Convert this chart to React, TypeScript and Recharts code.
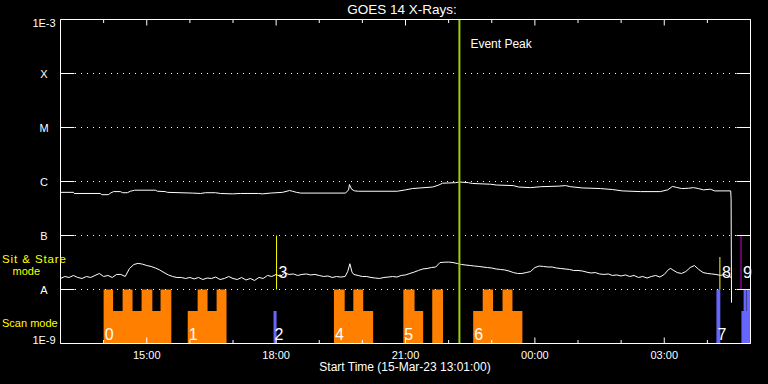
import { ComposedChart, XAxis, YAxis, Line, Area, ReferenceLine, ReferenceDot } from 'recharts';

const W = 768;
const H = 384;
const FONT = '"Liberation Sans", Arial, sans-serif';

// time axis: hours after 00:00 on 15-Mar-23 (24 = 00:00 on the 16th)
const hourTicks = [14, 15, 16, 17, 18, 19, 20, 21, 22, 23, 24, 25, 26, 27, 28];
const hourLabels: Record<number, string> = { 15: '15:00', 18: '18:00', 21: '21:00', 24: '00:00', 27: '03:00' };

// flux axis: decades and GOES class letters
const fluxTicks = [1e-9, 1e-8, 1e-7, 1e-6, 1e-5, 1e-4, 1e-3];
const fluxLabels = ['1E-9', 'A', 'B', 'C', 'M', 'X', '1E-3'];
const classLines = [1e-8, 1e-7, 1e-6, 1e-5, 1e-4];

// long channel, units of 1e-7
const longTimes = [
  13.0, 13.3, 13.32, 13.93, 13.95, 14.11, 14.16, 14.23, 14.39, 14.44, 14.55, 14.62, 14.72, 15.2, 15.25, 15.43,
  15.48, 16.06, 16.25, 16.36, 16.59, 16.71, 16.99, 17.17, 17.59, 17.68, 17.87, 18.15, 18.31, 18.38, 18.47, 18.57,
  19.61, 19.68, 19.7, 19.75, 19.82, 19.91, 20.81, 21.0, 21.16, 21.35, 21.63, 21.77, 21.86, 22.16, 22.25, 22.46,
  22.55, 22.97, 23.11, 23.5, 23.62, 23.9, 24.13, 24.55, 24.71, 24.83, 25.1, 25.52, 25.8, 26.03, 26.45, 26.91,
  27.08, 27.19, 27.28, 27.4, 27.56, 27.68, 27.79, 27.91, 28.07, 28.17, 28.54, 28.55, 28.56,
];
const longFlux = [
  6.3, 6.3, 6.0, 6.0, 5.7, 5.7, 6.1, 6.5, 6.5, 6.2, 6.2, 6.6, 6.9, 6.9, 6.6, 6.5,
  6.3, 6.1, 6.0, 6.2, 6.2, 6.0, 5.9, 6.0, 6.0, 5.9, 6.1, 6.3, 6.8, 6.6, 6.3, 6.1,
  6.1, 7.0, 8.8, 7.2, 6.7, 6.6, 6.6, 7.0, 7.4, 7.6, 7.9, 8.6, 9.3, 9.5, 9.8, 9.5,
  9.2, 8.9, 8.6, 8.4, 7.9, 7.7, 8.0, 8.2, 8.4, 8.0, 7.6, 7.4, 7.1, 6.7, 6.5, 6.5,
  7.0, 8.1, 7.8, 7.4, 7.5, 7.7, 7.4, 7.0, 7.2, 6.7, 6.7, 4.8, 0.057,
];

// short channel, units of 1e-8
const shortTimes = [
  13.0, 13.1, 13.2, 13.3, 13.4, 13.5, 13.6, 13.7, 13.8, 13.9, 14.0, 14.1, 14.2, 14.3, 14.4, 14.5,
  14.6, 14.7, 14.8, 14.9, 15.0, 15.1, 15.2, 15.3, 15.4, 15.5, 15.6, 15.7, 15.8, 15.9, 16.0, 16.1,
  16.2, 16.3, 16.4, 16.5, 16.6, 16.7, 16.8, 16.9, 17.0, 17.1, 17.2, 17.3, 17.4, 17.5, 17.6, 17.7,
  17.8, 17.9, 18.0, 18.1, 18.2, 18.3, 18.4, 18.5, 18.6, 18.7, 18.8, 18.9, 19.0, 19.1, 19.2, 19.3,
  19.4, 19.5, 19.6, 19.66, 19.71, 19.76, 19.8, 19.9, 20.0, 20.1, 20.2, 20.3, 20.4, 20.5, 20.6, 20.7,
  20.8, 20.9, 21.0, 21.1, 21.2, 21.3, 21.4, 21.5, 21.6, 21.7, 21.8, 21.9, 22.0, 22.1, 22.2, 22.3,
  22.4, 22.5, 22.6, 22.7, 22.8, 22.9, 23.0, 23.1, 23.2, 23.3, 23.4, 23.5, 23.6, 23.7, 23.8, 23.9,
  24.0, 24.1, 24.2, 24.3, 24.4, 24.5, 24.6, 24.7, 24.8, 24.9, 25.0, 25.1, 25.2, 25.3, 25.4, 25.5,
  25.6, 25.7, 25.8, 25.9, 26.0, 26.1, 26.2, 26.3, 26.4, 26.5, 26.6, 26.7, 26.8, 26.9, 27.0, 27.1,
  27.15, 27.2, 27.3, 27.4, 27.5, 27.6, 27.7, 27.8, 27.9, 28.0, 28.1, 28.2, 28.3, 28.4, 28.5, 28.56,
];
const shortFlux = [
  1.6, 1.74, 1.67, 1.82, 1.67, 1.6, 1.74, 1.67, 1.82, 1.98, 1.74, 1.82, 1.67, 1.9, 1.9, 1.74,
  2.45, 2.9, 3.05, 2.95, 2.78, 2.67, 2.5, 2.3, 2.06, 1.86, 1.74, 1.67, 1.67, 1.6, 1.67, 1.57,
  1.67, 1.53, 1.63, 1.6, 1.7, 1.53, 1.6, 1.74, 1.6, 1.53, 1.67, 1.5, 1.6, 1.47, 1.67, 1.6,
  1.82, 1.74, 1.9, 1.74, 2.02, 1.9, 1.94, 1.82, 1.9, 1.94, 1.86, 1.9, 1.82, 1.74, 1.78, 1.67,
  1.74, 1.7, 1.74, 2.15, 3.0, 2.1, 1.9, 1.82, 1.74, 1.74, 1.67, 1.63, 1.6, 1.67, 1.7, 1.74,
  1.7, 1.82, 1.86, 1.98, 2.1, 2.25, 2.4, 2.45, 2.55, 2.61, 3.16, 3.2, 3.22, 3.16, 3.03, 2.9,
  2.84, 2.78, 2.72, 2.67, 2.61, 2.55, 2.5, 2.4, 2.35, 2.3, 2.2, 2.06, 1.98, 1.98, 2.06, 2.15,
  2.55, 2.72, 2.67, 2.61, 2.61, 2.5, 2.45, 2.4, 2.35, 2.25, 2.25, 2.2, 2.1, 2.02, 2.06, 1.94,
  1.9, 1.94, 1.82, 1.86, 1.78, 1.86, 1.74, 1.82, 1.67, 1.74, 1.63, 1.74, 1.82, 1.7, 1.9, 2.35,
  2.45, 2.3, 2.06, 1.98, 2.15, 2.55, 2.78, 2.35, 2.06, 1.98, 1.94, 1.9, 1.82, 1.9, 1.74, 1.67,
];

// instrument mode blocks: edges in hours, one level per interval
const scanEdges = [
  14.0, 14.22, 14.44, 14.67, 14.88, 15.13, 15.32, 15.57, 15.95, 16.18, 16.41, 16.62, 16.85, 19.34, 19.59,
  19.79, 20.02, 20.25, 20.95, 21.21, 21.41, 21.62, 21.87, 22.57, 22.79, 23.03, 23.25, 23.48, 23.71,
];
const scanLevels = [
  'hi', 'lo', 'hi', 'lo', 'hi', 'lo', 'hi', 'off', 'lo', 'hi', 'lo', 'hi', 'off', 'hi', 'lo',
  'hi', 'lo', 'off', 'hi', 'lo', 'off', 'hi', 'off', 'lo', 'hi', 'lo', 'hi', 'lo',
];
const stareEdges = [17.94, 18.01, 28.21, 28.3, 28.79, 28.84, 28.91, 28.92, 29.0];
const stareLevels = ['lo', 'off', 'hi', 'off', 'lo', 'hi', 'lo', 'hi'];
const LEVEL: Record<string, number> = { hi: 1e-8, lo: 4e-9 };

const blockNames = ['0', '1', '2', '4', '5', '6', '7'];
const blockTimes = [14.0, 15.95, 17.94, 19.34, 20.95, 22.57, 28.21];

const eventNames = ['3', '8', '9'];
const eventTimes = [18.01, 28.29, 28.78];
const eventTops = [1e-7, 4e-8, 1e-7];
const eventColors = ['#ffff00', '#ffff00', '#cc00cc'];
const peakTime = 22.25;

const longData = longTimes.map((t, i) => ({ t, v: longFlux[i] * 1e-7 }));
const shortData = shortTimes.map((t, i) => ({ t, v: shortFlux[i] * 1e-8 }));

function stepData(edges: number[], levels: string[]) {
  const pts: { t: number; v: number | null }[] = [];
  levels.forEach((lv, i) => {
    if (lv === 'off') return;
    const v = LEVEL[lv];
    pts.push({ t: edges[i], v });
    if (i === levels.length - 1 || levels[i + 1] === 'off') {
      pts.push({ t: edges[i + 1], v });
      pts.push({ t: edges[i + 1], v: null });
    }
  });
  return pts;
}
const scanData = stepData(scanEdges, scanLevels);
const stareData = stepData(stareEdges, stareLevels);

const txt = { fill: '#fff', fontFamily: FONT };

function BottomTick(p: any) {
  const label = hourLabels[p.payload.value];
  return (
    <g>
      <line x1={p.x} x2={p.x} y1={p.y} y2={p.y - (label ? 6 : 3.5)} stroke="#fff" />
      {label && (
        <text x={p.x} y={p.y + 15.5} textAnchor="middle" fontSize={11} {...txt}>
          {label}
        </text>
      )}
    </g>
  );
}

function TopTick(p: any) {
  const major = !!hourLabels[p.payload.value];
  return <line x1={p.x} x2={p.x} y1={p.y} y2={p.y + (major ? 6 : 3.5)} stroke="#fff" />;
}

function LeftTick(p: any) {
  const i = fluxTicks.findIndex((f) => Math.abs(Math.log10(f) - Math.log10(p.payload.value)) < 0.01);
  const dy = i === fluxTicks.length - 1 ? 7.5 : i === 0 ? 0 : 4;
  return (
    <g>
      <line x1={p.x} x2={p.x + 14} y1={p.y} y2={p.y} stroke="#fff" />
      <text x={p.x - 16.5} y={p.y + dy} textAnchor="middle" fontSize={11} {...txt}>
        {fluxLabels[i]}
      </text>
    </g>
  );
}

function RightTick(p: any) {
  return <line x1={p.x - 14} x2={p.x} y1={p.y} y2={p.y} stroke="#fff" />;
}

const eventLabel = (name: string) => (props: any) => {
  const vb = props.viewBox ?? props;
  return (
    <text x={vb.x + 2} y={vb.y + vb.height - 12} fontSize={16} {...txt}>
      {name}
    </text>
  );
};

const blockLabel = (name: string) => (props: any) => {
  const vb = props.viewBox ?? props;
  return (
    <text x={vb.x + 1} y={vb.y - 4} fontSize={16} {...txt}>
      {name}
    </text>
  );
};

const peakLabel = (props: any) => {
  const vb = props.viewBox ?? props;
  return (
    <text x={vb.x + 11} y={vb.y + 28} fontSize={12} {...txt}>
      Event Peak
    </text>
  );
};

export default function App() {
  return (
    <div style={{ position: 'absolute', left: 0, top: 0, width: W, height: H, background: '#000' }}>
      <ComposedChart width={W} height={H} margin={{ top: 0, right: 0, bottom: 0, left: 0 }}>
        <XAxis
          xAxisId="b"
          type="number"
          dataKey="t"
          domain={[13, 29]}
          allowDataOverflow
          ticks={hourTicks}
          interval={0}
          height={40.5}
          tickSize={0}
          tickMargin={0}
          tickLine={false}
          axisLine={{ stroke: '#fff' }}
          tick={BottomTick}
        />
        <XAxis
          xAxisId="t"
          orientation="top"
          type="number"
          dataKey="t"
          domain={[13, 29]}
          allowDataOverflow
          ticks={hourTicks}
          interval={0}
          height={19.5}
          tickSize={0}
          tickMargin={0}
          tickLine={false}
          axisLine={{ stroke: '#fff' }}
          tick={TopTick}
        />
        <YAxis
          yAxisId="l"
          type="number"
          scale="log"
          domain={[1e-9, 1e-3]}
          allowDataOverflow
          ticks={fluxTicks}
          interval={0}
          width={60.5}
          tickSize={0}
          tickMargin={0}
          tickLine={false}
          axisLine={{ stroke: '#fff' }}
          tick={LeftTick}
        />
        <YAxis
          yAxisId="r"
          orientation="right"
          type="number"
          scale="log"
          domain={[1e-9, 1e-3]}
          allowDataOverflow
          ticks={fluxTicks}
          interval={0}
          width={17.5}
          tickSize={0}
          tickMargin={0}
          tickLine={false}
          axisLine={{ stroke: '#fff' }}
          tick={RightTick}
        />

        {classLines.map((v) => (
          <ReferenceLine
            key={v}
            xAxisId="b"
            yAxisId="l"
            y={v}
            stroke="#fff"
            strokeDasharray="1 5"
            strokeDashoffset={3.5}
          />
        ))}

        <Area
          xAxisId="b"
          yAxisId="l"
          data={scanData}
          dataKey="v"
          type="stepAfter"
          baseValue={1e-9}
          fill="#ff8000"
          fillOpacity={1}
          stroke="none"
          dot={false}
          activeDot={false}
          isAnimationActive={false}
        />
        <Area
          xAxisId="b"
          yAxisId="l"
          data={stareData}
          dataKey="v"
          type="stepAfter"
          baseValue={1e-9}
          fill="#6666ff"
          fillOpacity={1}
          stroke="none"
          dot={false}
          activeDot={false}
          isAnimationActive={false}
        />
        <Line
          xAxisId="b"
          yAxisId="l"
          data={longData}
          dataKey="v"
          type="linear"
          stroke="#fff"
          strokeWidth={1}
          dot={false}
          activeDot={false}
          isAnimationActive={false}
        />
        <Line
          xAxisId="b"
          yAxisId="l"
          data={shortData}
          dataKey="v"
          type="linear"
          stroke="#fff"
          strokeWidth={1}
          dot={false}
          activeDot={false}
          isAnimationActive={false}
        />

        <ReferenceLine xAxisId="b" yAxisId="l" x={peakTime} stroke="#9ccc10" strokeWidth={2} label={peakLabel} />
        {eventTimes.map((t, i) => (
          <ReferenceLine
            key={eventNames[i]}
            xAxisId="b"
            yAxisId="l"
            segment={[
              { x: t, y: 1e-8 },
              { x: t, y: eventTops[i] },
            ]}
            stroke={eventColors[i]}
            strokeWidth={1}
            label={eventLabel(eventNames[i])}
          />
        ))}
        {blockTimes.map((t, i) => (
          <ReferenceDot
            key={blockNames[i]}
            xAxisId="b"
            yAxisId="l"
            x={t}
            y={1e-9}
            r={0}
            fill="none"
            stroke="none"
            ifOverflow="visible"
            label={blockLabel(blockNames[i])}
          />
        ))}
      </ComposedChart>

      <svg width={W} height={H} style={{ position: 'absolute', left: 0, top: 0, pointerEvents: 'none' }}>
        <text x={402} y={13.5} textAnchor="middle" fontSize={13.5} {...txt}>
          GOES 14 X-Rays:
        </text>
        <text x={405} y={371} textAnchor="middle" fontSize={12} {...txt}>
          Start Time (15-Mar-23 13:01:00)
        </text>
        <text x={2} y={262.5} fontSize={11.5} fill="#ffff00" fontFamily={FONT} letterSpacing={0.9}>
          Sit &amp; Stare
        </text>
        <text x={12.5} y={275} fontSize={11} fill="#ffff00" fontFamily={FONT}>
          mode
        </text>
        <text x={2} y={327} fontSize={11} fill="#ffff00" fontFamily={FONT}>
          Scan mode
        </text>
      </svg>
    </div>
  );
}
